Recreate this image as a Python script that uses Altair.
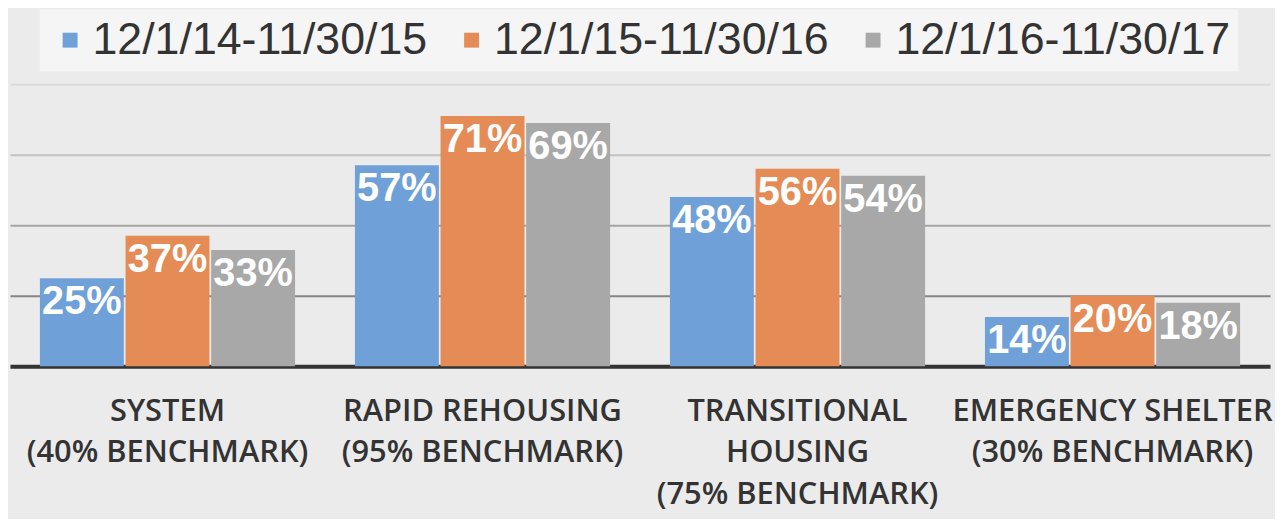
import altair as alt
import pandas as pd

categories = [
    "SYSTEM|(40% BENCHMARK)",
    "RAPID REHOUSING|(95% BENCHMARK)",
    "TRANSITIONAL|HOUSING|(75% BENCHMARK)",
    "EMERGENCY SHELTER|(30% BENCHMARK)",
]
periods = ["12/1/14-11/30/15", "12/1/15-11/30/16", "12/1/16-11/30/17"]
values_2015 = [25, 57, 48, 14]
values_2016 = [37, 71, 56, 20]
values_2017 = [33, 69, 54, 18]
grid_values = [20, 40, 60, 80]
colors = ["#6fa1d8", "#e58c56", "#a8a8a8"]

rows = []
for p, vals in zip(periods, [values_2015, values_2016, values_2017]):
    for c, v in zip(categories, vals):
        rows.append({"category": c, "period": p, "value": v, "label": f"{v}%"})
df = pd.DataFrame(rows)

base = alt.Chart(df).encode(
    x=alt.X(
        "category:N",
        sort=categories,
        scale=alt.Scale(paddingInner=0.19, paddingOuter=0.095),
        axis=alt.Axis(
            title=None,
            labelExpr="split(datum.label, '|')",
            labelFont="Open Sans",
            labelFontSize=31,
            labelFontWeight=600,
            labelColor="#333333",
            labelPadding=30,
            labelLineHeight=42,
            labelAngle=0,
            labelLimit=400,
            ticks=False,
            domainColor="#333333",
            domainWidth=4,
        ),
    ),
    xOffset=alt.XOffset("period:N", sort=periods, scale=alt.Scale(paddingInner=0.02)),
    y=alt.Y(
        "value:Q",
        scale=alt.Scale(domain=[0, 80]),
        axis=alt.Axis(
            title=None,
            labels=False,
            ticks=False,
            domain=False,
            grid=True,
            values=grid_values,
            gridWidth=2,
            gridColor={
                "condition": [
                    {"test": "datum.value == 20", "value": "#858585"},
                    {"test": "datum.value == 40", "value": "#a5a5a5"},
                    {"test": "datum.value == 60", "value": "#c2c2c2"},
                ],
                "value": "#dadada",
            },
        ),
    ),
)

bars = base.mark_bar().encode(
    color=alt.Color(
        "period:N",
        sort=periods,
        scale=alt.Scale(domain=periods, range=colors),
        legend=alt.Legend(
            title=None,
            orient="none",
            legendX=30,
            legendY=-75,
            direction="horizontal",
            symbolType="square",
            symbolSize=225,
            symbolStrokeWidth=0,
            labelFont="Liberation Sans",
            labelFontSize=45,
            labelColor="#333333",
            labelOffset=0,
            labelLimit=600,
            columnPadding=22,
            padding=8,
            fillColor="#f5f5f5",
            offset=0,
        ),
    )
)

labels = base.mark_text(
    baseline="top",
    dy=4,
    font="Liberation Sans",
    fontWeight="bold",
    fontSize=40,
    color="white",
).encode(text="label:N")

chart = (
    alt.layer(bars, labels)
    .properties(
        width=1268,
        height=284,
        background="#ebebeb",
        padding={"left": 2, "top": 75, "right": 5, "bottom": 152},
        autosize=alt.AutoSizeParams(type="none"),
    )
    .configure_view(stroke=None)
)

chart.save("out.html", embed_options={"renderer": "svg", "actions": False})
